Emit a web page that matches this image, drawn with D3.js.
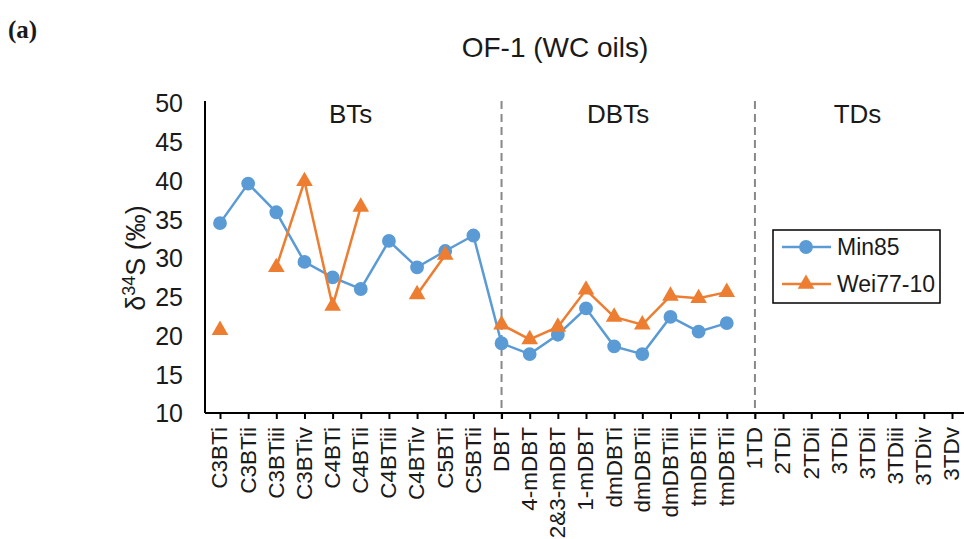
<!DOCTYPE html>
<html>
<head>
<meta charset="utf-8">
<script src="https://cdn.jsdelivr.net/npm/d3@7"></script>
<style>
  body { margin: 0; background: #fff; }
  svg text { font-family: "Liberation Sans", Arial, sans-serif; fill: #1a1a1a; }
</style>
</head>
<body>
<svg id="chart" width="964" height="539"></svg>
<script>
// categories on the x axis (the figure prints "tmDBTii" twice)
var categories = ["C3BTi","C3BTii","C3BTiii","C3BTiv","C4BTi","C4BTii","C4BTiii","C4BTiv","C5BTi","C5BTii",
  "DBT","4-mDBT","2&3-mDBT","1-mDBT","dmDBTi","dmDBTii","dmDBTiii","tmDBTii","tmDBTii",
  "1TD","2TDi","2TDii","3TDi","3TDii","3TDiii","3TDiv","3TDv"];

var min85 = [34.5, 39.6, 35.9, 29.5, 27.5, 26.0, 32.2, 28.8, 30.9, 32.9,
  19.0, 17.6, 20.1, 23.5, 18.6, 17.6, 22.4, 20.5, 21.6,
  null, null, null, null, null, null, null, null];
var wei77 = [20.7, null, 28.8, 39.9, 23.8, 36.6, null, 25.3, 30.4, null,
  21.4, 19.5, 21.1, 25.9, 22.4, 21.4, 25.1, 24.8, 25.6,
  null, null, null, null, null, null, null, null];

var yTicks = [10, 15, 20, 25, 30, 35, 40, 45, 50];
var groups = [{name: "BTs", from: 0, to: 9}, {name: "DBTs", from: 10, to: 18}, {name: "TDs", from: 19, to: 26}];
var dividers = [10, 19];

var blue = "#5b9bd5", orange = "#ed7d31";

(function() {
  // unique keys so the point scale keeps both tmDBTii
  var catKeys = categories.map(function(c, i){ return i + ":" + c; });

  var svg = d3.select("#chart");
  var pLeft = 205, pRight = 964, pTop = 103, pBottom = 413;

  var x = d3.scalePoint().domain(catKeys).range([220, 952]);
  var y = d3.scaleLinear().domain([10, 50]).range([pBottom, pTop]);

  // title + panel letter
  svg.append("text").attr("x", 8).attr("y", 38)
    .style("font-family", "'Liberation Serif', 'Times New Roman', serif")
    .style("font-weight", "bold").style("font-size", "25px").text("(a)");
  svg.append("text").attr("x", 555).attr("y", 57).attr("text-anchor", "middle")
    .style("font-size", "28px").text("OF-1 (WC oils)");

  // y axis
  var yAxis = svg.append("g").attr("transform", "translate(" + pLeft + ",0)")
    .call(d3.axisLeft(y).tickValues(yTicks).tickSize(0).tickPadding(22));
  yAxis.select(".domain").attr("stroke", "#000").attr("stroke-width", 2).attr("d", "M0," + (pTop - 2) + "V" + pBottom);
  yAxis.selectAll("text").style("font-size", "25px").attr("dy", "0.35em")
    .style("font-family", "'Liberation Sans', Arial, sans-serif").attr("fill", "#1a1a1a");

  svg.append("text")
    .attr("transform", "translate(145,258) rotate(-90)")
    .attr("text-anchor", "middle").style("font-size", "27px")
    .html("δ<tspan dy='-10' font-size='18px'>34</tspan><tspan dy='10'>S (‰)</tspan>");

  // dashed dividers
  dividers.forEach(function(i) {
    svg.append("line")
      .attr("x1", x(catKeys[i])).attr("x2", x(catKeys[i]))
      .attr("y1", pTop - 2).attr("y2", pBottom + 6)
      .attr("stroke", "#888").attr("stroke-width", 2).attr("stroke-dasharray", "8,5");
  });

  // x axis
  var xAxis = svg.append("g").attr("transform", "translate(0," + pBottom + ")")
    .call(d3.axisBottom(x).tickSize(6).tickPadding(8).tickFormat(function(d){ return d.split(":")[1]; }));
  xAxis.select(".domain").attr("stroke", "#000").attr("stroke-width", 2).attr("d", "M" + pLeft + ",0H" + pRight);
  xAxis.selectAll(".tick line").attr("stroke", "#000").attr("stroke-width", 2);
  xAxis.selectAll("text")
    .style("font-size", "22.5px").style("font-family", "'Liberation Sans', Arial, sans-serif").attr("fill", "#1a1a1a")
    .attr("text-anchor", "end").attr("transform", "rotate(-90)")
    .attr("x", -14).attr("y", -1).attr("dy", "0.35em");

  // group labels
  groups.forEach(function(g) {
    var cx = (x(catKeys[g.from]) + x(catKeys[g.to])) / 2;
    svg.append("text").attr("x", cx + 4).attr("y", 123)
      .attr("text-anchor", "middle").style("font-size", "26px").text(g.name);
  });

  // series
  function drawSeries(vals, color, shape) {
    var line = d3.line()
      .defined(function(d){ return d != null; })
      .x(function(d, i){ return x(catKeys[i]); })
      .y(function(d){ return y(d); });
    svg.append("path").datum(vals).attr("d", line)
      .attr("fill", "none").attr("stroke", color).attr("stroke-width", 2.5);
    var pts = vals.map(function(v, i){ return {v: v, i: i}; }).filter(function(p){ return p.v != null; });
    var sym = d3.symbol().type(shape).size(shape === d3.symbolTriangle ? 120 : 150);
    svg.selectAll(null).data(pts).enter().append("path")
      .attr("d", sym)
      .attr("transform", function(p){ return "translate(" + x(catKeys[p.i]) + "," + y(p.v) + ")"; })
      .attr("fill", color);
  }
  drawSeries(min85, blue, d3.symbolCircle);
  drawSeries(wei77, orange, d3.symbolTriangle);

  // legend
  var lg = svg.append("g");
  lg.append("rect").attr("x", 773).attr("y", 230).attr("width", 167).attr("height", 73)
    .attr("fill", "#fff").attr("stroke", "#000").attr("stroke-width", 1.5);
  [{name: "Min85", color: blue, shape: d3.symbolCircle, yy: 247},
   {name: "Wei77-10", color: orange, shape: d3.symbolTriangle, yy: 284}].forEach(function(e) {
    lg.append("line").attr("x1", 782).attr("x2", 831).attr("y1", e.yy).attr("y2", e.yy)
      .attr("stroke", e.color).attr("stroke-width", 2.5);
    lg.append("path").attr("d", d3.symbol().type(e.shape).size(e.shape === d3.symbolTriangle ? 120 : 150))
      .attr("transform", "translate(806," + e.yy + ")").attr("fill", e.color);
    lg.append("text").attr("x", 837).attr("y", e.yy).attr("dy", "0.35em")
      .style("font-size", "23px").text(e.name);
  });
})();
</script>
</body>
</html>
